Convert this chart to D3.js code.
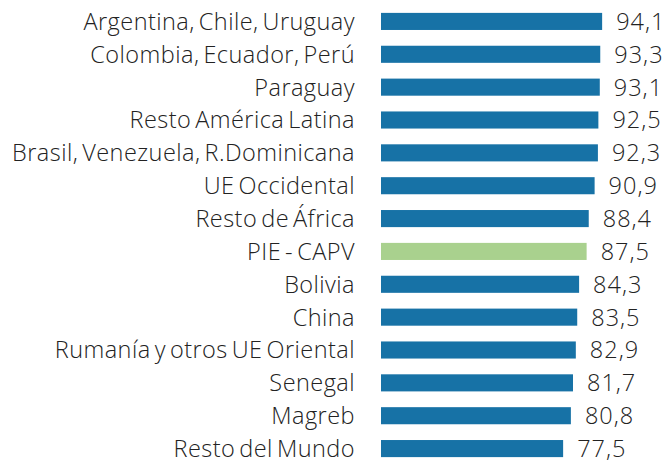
<!DOCTYPE html>
<html>
<head>
<meta charset="utf-8">
<script src="https://cdn.jsdelivr.net/npm/d3@7"></script>
<style>
  body { margin: 0; background: #fff; }
  text { font-family: "Open Sans", sans-serif; font-weight: 300; fill: #222; }
</style>
</head>
<body>
<svg id="chart" width="665" height="460"></svg>
<script>
// categorias y valores
var categories = ['Argentina, Chile, Uruguay', 'Colombia, Ecuador, Perú', 'Paraguay',
  'Resto América Latina', 'Brasil, Venezuela, R.Dominicana', 'UE Occidental',
  'Resto de África', 'PIE - CAPV', 'Bolivia', 'China', 'Rumanía y otros UE Oriental',
  'Senegal', 'Magreb', 'Resto del Mundo'];
var values = [94.1, 93.3, 93.1, 92.5, 92.3, 90.9, 88.4, 87.5, 84.3, 83.5, 82.9, 81.7, 80.8, 77.5];
var highlight = 'PIE - CAPV';

var svg = d3.select('#chart');
var x = d3.scaleLinear().domain([0, 100]).range([381, 616]);
var y = d3.scaleBand().domain(categories).range([5, 465]).paddingInner(0.48).paddingOuter(0.24);

var fmt = function(v){ return d3.format('.1f')(v).replace('.', ','); };

// barras
svg.append('g').selectAll('rect')
  .data(categories)
  .enter().append('rect')
  .attr('x', x(0))
  .attr('y', function(d){ return y(d); })
  .attr('width', function(d, i){ return x(values[i]) - x(0); })
  .attr('height', y.bandwidth())
  .attr('fill', function(d){ return d == highlight ? '#a9d18e' : '#1772a6'; });

// etiquetas de categoria
svg.append('g').selectAll('text')
  .data(categories)
  .enter().append('text')
  .attr('x', 355)
  .attr('y', function(d){ return y(d) + y.bandwidth() / 2; })
  .attr('dy', '0.36em')
  .attr('text-anchor', 'end')
  .style('font-size', '23.5px')
  .style('letter-spacing', '0.45px')
  .style('word-spacing', '-2.5px')
  .text(function(d){ return d; });

// valores
svg.append('g').selectAll('text')
  .data(values)
  .enter().append('text')
  .attr('x', function(d){ return x(d) + 14; })
  .attr('y', function(d, i){ return y(categories[i]) + y.bandwidth() / 2; })
  .attr('dy', '0.36em')
  .style('font-size', '23.5px')
  .style('letter-spacing', '1px')
  .text(fmt);
</script>
</body>
</html>
